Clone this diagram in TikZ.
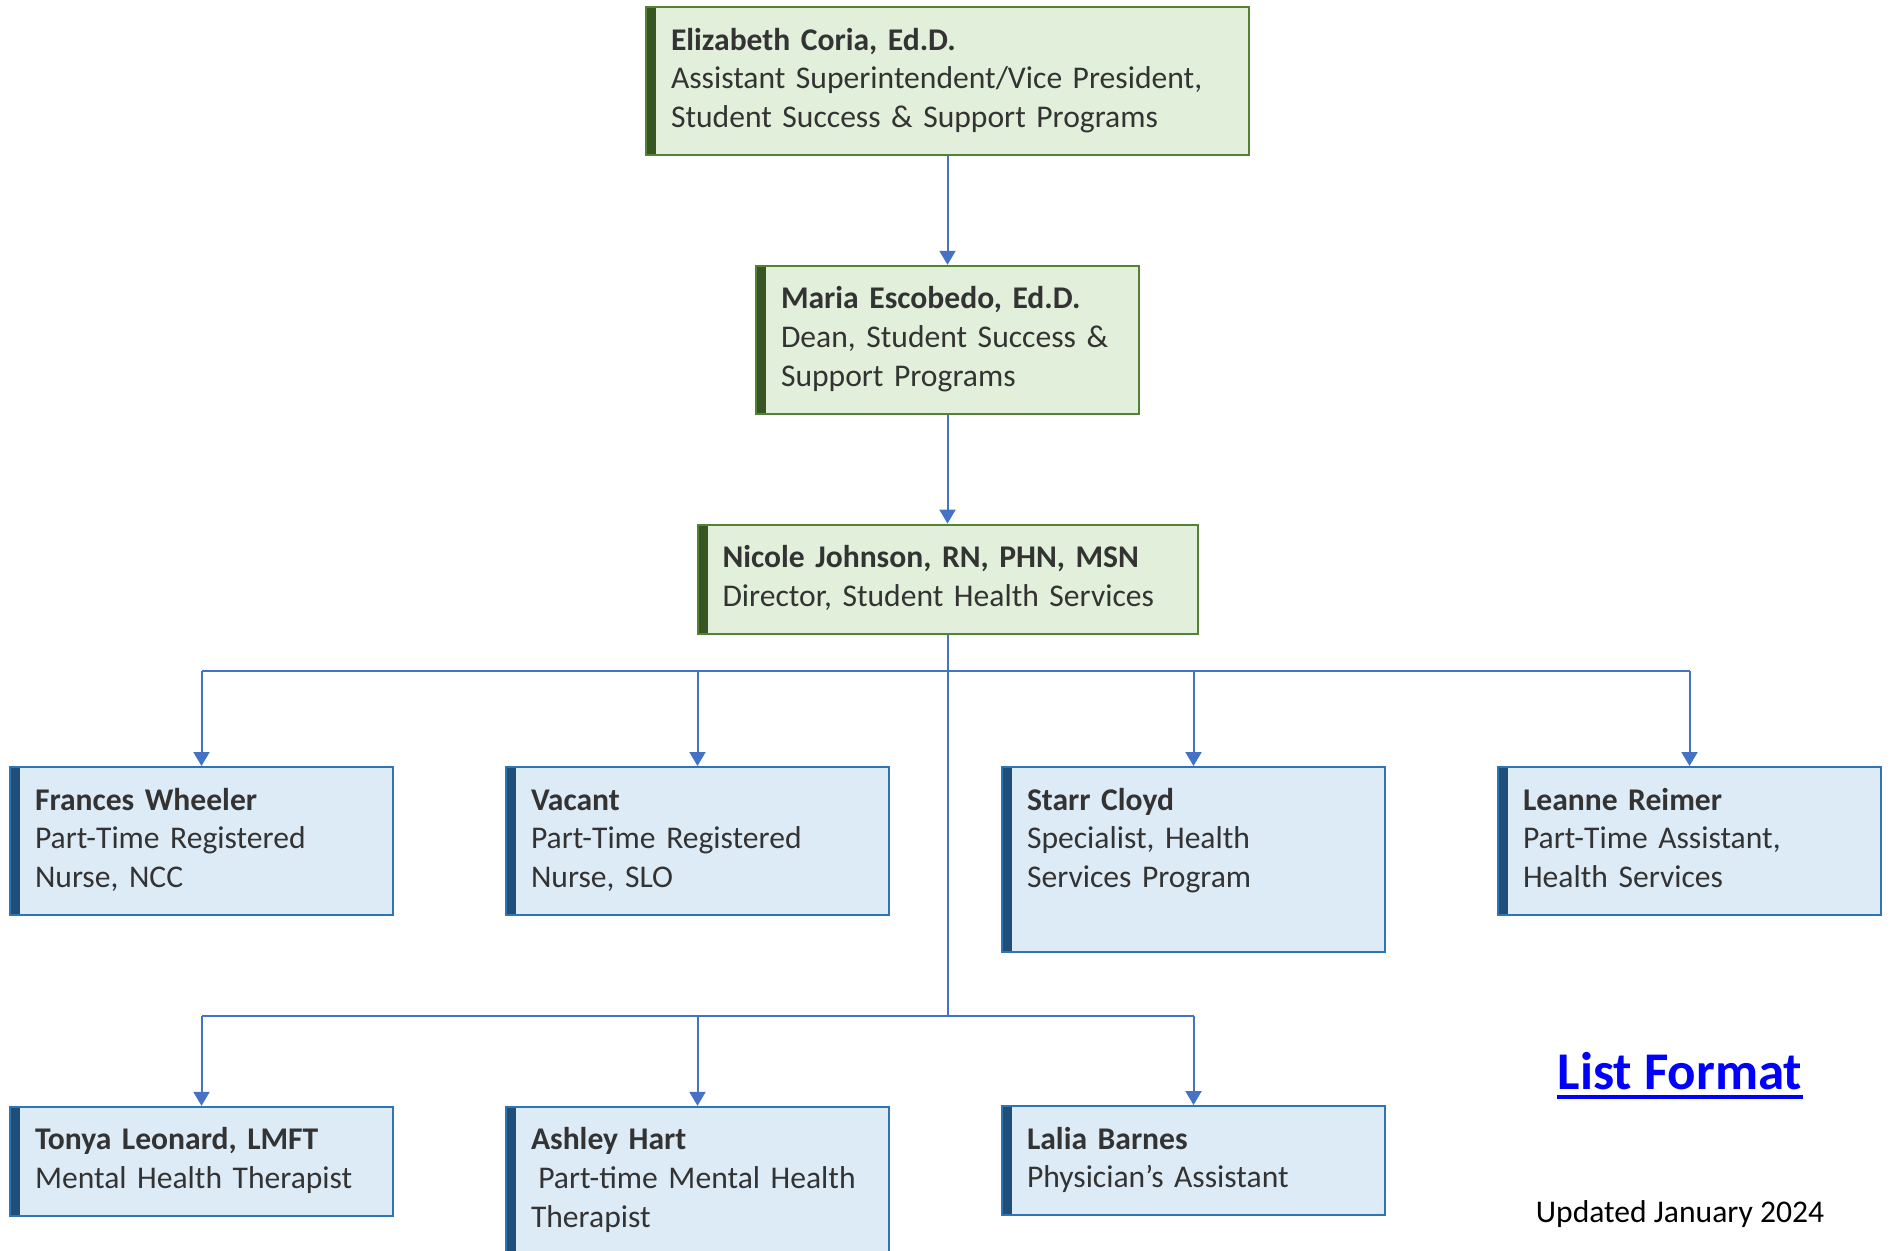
\documentclass[tikz,border=0pt]{standalone}
\usepackage{fontspec}
\setmainfont{Carlito}
\usepackage{xcolor}
\definecolor{DEANLINE}{RGB}{84,130,53}
\definecolor{DEANFILL}{RGB}{226,239,218}
\definecolor{DEANBAR}{RGB}{55,86,35}
\definecolor{STAFFLINE}{RGB}{46,117,182}
\definecolor{STAFFFILL}{RGB}{221,235,247}
\definecolor{STAFFBAR}{RGB}{31,78,121}
\definecolor{LINKCOLOR}{RGB}{68,114,196}
\colorlet{TEXTCOLOR}{black!80}
\usetikzlibrary{arrows.meta,positioning}
\tikzset{
  basic-style/.style n args = {3}{
    rectangle, draw=#1, fill=#2, line width=1pt,
    path picture={
      \fill[#3] (path picture bounding box.north west) rectangle
        ([xshift=5pt]path picture bounding box.south west);
    },
    align=left, anchor=north west,
    inner xsep=12.5pt, inner ysep=8pt,
    text=TEXTCOLOR,
    font=\fontsize{15.8}{19.3}\selectfont,
    execute at begin node=\strut,
    execute at end node=\strut
  },
  dean-style/.style = {
    basic-style={DEANLINE}{DEANFILL}{DEANBAR},
    text width=#1
  },
  dean-style/.default = 166.5pt,
  staff-style/.style = {
    basic-style={STAFFLINE}{STAFFFILL}{STAFFBAR},
    text width=166.5pt
  },
  link-style/.style = {
    draw=LINKCOLOR, line width=1pt
  },
  arrow-style/.style = {
    link-style, -{Triangle[width=8pt,length=7pt]}
  }
}

\begin{document}
\begin{tikzpicture}[x=0.5pt,y=-0.5pt]
    \useasboundingbox (0,0) rectangle (1891,1250);

    %%% deans and director
    \node[dean-style=276.5pt] (coria) at (645,6)
      {\textbf{Elizabeth Coria, Ed.D.}\\Assistant Superintendent/Vice President,\\Student Success \& Support Programs};
    \node[dean-style,below=54.5pt of coria,anchor=north] (escobedo)
      {\textbf{Maria Escobedo, Ed.D.}\\Dean, Student Success \&\\Support Programs};
    \node[dean-style=225pt,below=54.5pt of escobedo,anchor=north] (johnson)
      {\textbf{Nicole Johnson, RN, PHN, MSN}\\Director, Student Health Services};

    %%% first row of staff
    \node[staff-style] (wheeler) at (9,766)
      {\textbf{Frances Wheeler}\\Part-Time Registered\\Nurse, NCC};
    \node[staff-style,right=55.5pt of wheeler.north east,anchor=north west] (vacant)
      {\textbf{Vacant}\\Part-Time Registered\\Nurse, SLO};
    \node[staff-style,right=55.5pt of vacant.north east,anchor=north west,text depth=63pt] (cloyd)
      {\textbf{Starr Cloyd}\\Specialist, Health\\Services Program};
    \node[staff-style,right=55.5pt of cloyd.north east,anchor=north west] (reimer)
      {\textbf{Leanne Reimer}\\Part-Time Assistant,\\Health Services};

    %%% second row of staff
    \node[staff-style,below=95pt of wheeler.south,anchor=north] (leonard)
      {\textbf{Tonya Leonard, LMFT}\\Mental Health Therapist};
    \node[staff-style,below=95pt of vacant.south,anchor=north,text depth=63pt] (hart)
      {\textbf{Ashley Hart}\\\hspace{0.23em}Part-time Mental Health\\Therapist};
    \node[staff-style,below=76pt of cloyd.south,anchor=north] (barnes)
      {\textbf{Lalia Barnes}\\Physician's Assistant};

    %%% notes
    \node[anchor=base,inner sep=0pt,text=blue,font=\fontsize{26.5}{32}\selectfont\bfseries] (listFormat) at (1680,1089) {List Format};
    \draw[blue,line width=2pt] ([yshift=-4pt]listFormat.base west) -- ([yshift=-4pt]listFormat.base east);
    \node[anchor=base,inner sep=0pt,font=\fontsize{15.8}{19.3}\selectfont] (updated) at (1680,1222) {Updated January 2024};

    %%% arrows
    \coordinate (bus1) at ([yshift=-18pt]johnson.south);
    \coordinate (row2) at ([yshift=45pt]leonard.north);
    \coordinate (bus2) at (johnson.south |- row2);
    \draw[arrow-style] (coria) -- (escobedo);
    \draw[arrow-style] (escobedo) -- (johnson);
    \draw[link-style] (johnson.south) -- (bus2);
    \draw[link-style] (wheeler.north |- bus1) -- (reimer.north |- bus1);
    \draw[link-style] (leonard.north |- bus2) -- (barnes.north |- bus2);
    \foreach \staff in {wheeler,vacant,cloyd,reimer}
      \draw[arrow-style] (\staff.north |- bus1) -- (\staff.north);
    \foreach \staff in {leonard,hart,barnes}
      \draw[arrow-style] (\staff.north |- bus2) -- (\staff.north);
\end{tikzpicture}
\end{document}
